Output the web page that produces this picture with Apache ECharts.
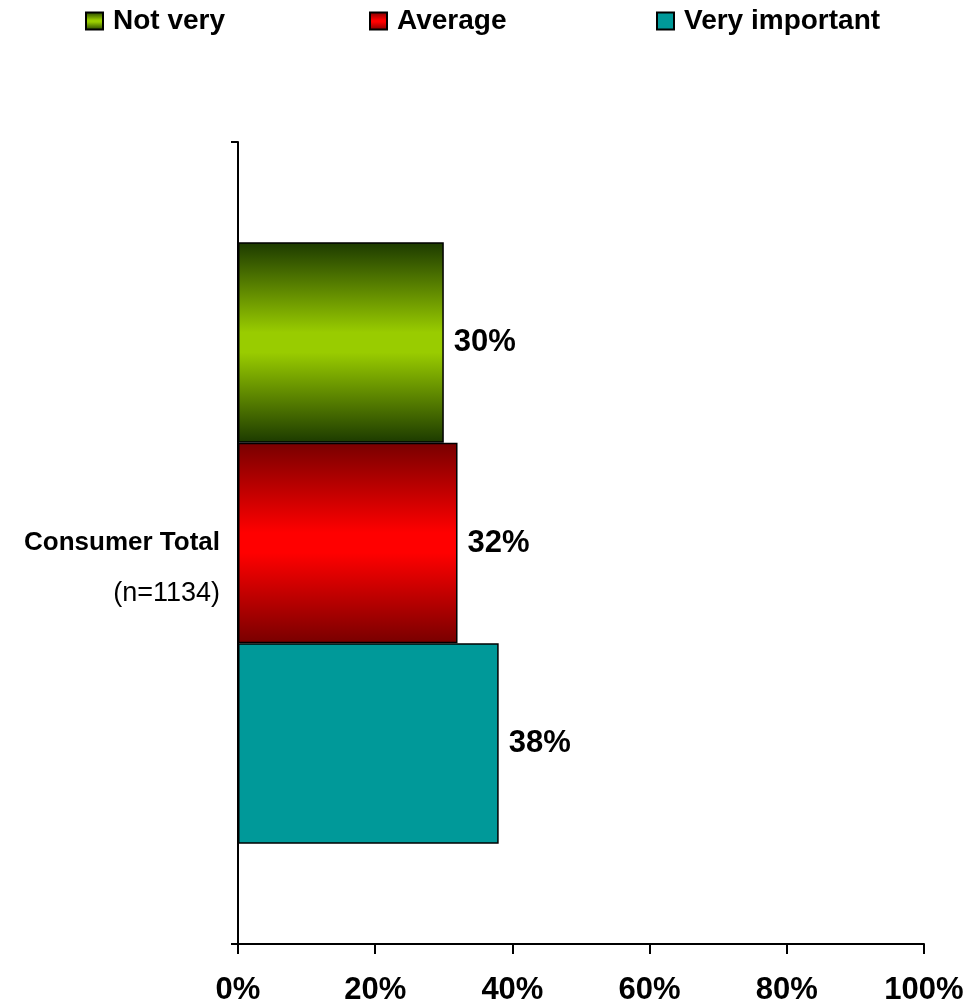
<!DOCTYPE html>
<html>
<head>
<meta charset="utf-8">
<script src="https://cdn.jsdelivr.net/npm/echarts@6/dist/echarts.min.js"></script>
<style>html,body{margin:0;padding:0;background:#fff}#c{width:972px;height:1007px}</style>
</head>
<body>
<div id="c"></div>
<script>
const categories = ['Consumer Total'];
const sampleSizes = ['(n=1134)'];
const seriesNames = ['Not very', 'Average', 'Very important'];
const notVery = [30];
const average = [32];
const veryImportant = [38];
const xTickValues = [0, 20, 40, 60, 80, 100];

const FONT = '"Liberation Sans", Arial, sans-serif';
function grad(edge, mid) {
  return new echarts.graphic.LinearGradient(0, 0, 0, 1, [
    {offset: 0, color: edge}, {offset: 0.45, color: mid},
    {offset: 0.55, color: mid}, {offset: 1, color: edge}
  ]);
}
const styles = [
  {color: grad('#1c3a00', '#99cc00'), borderColor: '#000', borderWidth: 1.5},
  {color: grad('#780000', '#ff0000'), borderColor: '#000', borderWidth: 1.5},
  {color: '#009999', borderColor: '#000', borderWidth: 1.5}
];
const values = [notVery, average, veryImportant];
const legendLefts = [85, 369, 656];

const chart = echarts.init(document.getElementById('c'));
chart.setOption({
  animation: false,
  textStyle: {fontFamily: FONT},
  legend: seriesNames.map((n, i) => ({
    data: [n], left: legendLefts[i], top: 7, padding: 0,
    icon: 'rect', itemWidth: 17, itemHeight: 17,
    textStyle: {fontSize: 28, fontWeight: 'bold', color: '#000', fontFamily: FONT, padding: [0, 0, 0, 5]}
  })),
  grid: {left: 238, right: 48, top: 142, bottom: 63, containLabel: false},
  xAxis: {
    type: 'value', min: 0, max: 100, interval: 20,
    axisLine: {show: true, lineStyle: {color: '#000', width: 2}},
    axisTick: {show: true, length: 10, lineStyle: {color: '#000', width: 2}},
    splitLine: {show: false},
    axisLabel: {formatter: '{value}%', fontSize: 31, fontWeight: 'bold', color: '#000', margin: 31, fontFamily: FONT}
  },
  yAxis: {
    type: 'category', data: categories,
    axisLine: {show: true, lineStyle: {color: '#000', width: 2}},
    axisTick: {show: true, length: 7, lineStyle: {color: '#000', width: 2}},
    axisLabel: {
      margin: 18,
      padding: [51, 0, 0, 0],
      formatter: (v, idx) => '{a|' + v + '}\n{b|' + sampleSizes[idx] + '}',
      rich: {
        a: {fontSize: 26, fontWeight: 'bold', color: '#000', lineHeight: 51, fontFamily: FONT},
        b: {fontSize: 27, fontWeight: 'normal', color: '#000', lineHeight: 51, fontFamily: FONT}
      }
    }
  },
  series: seriesNames.map((n, i) => ({
    name: n, type: 'bar', data: values[i],
    barGap: '0%', barCategoryGap: '25%',
    itemStyle: styles[i],
    label: {show: true, position: 'right', distance: 10, formatter: '{c}%',
      fontSize: 31, fontWeight: 'bold', color: '#000', fontFamily: FONT}
  }))
});
</script>
</body>
</html>
